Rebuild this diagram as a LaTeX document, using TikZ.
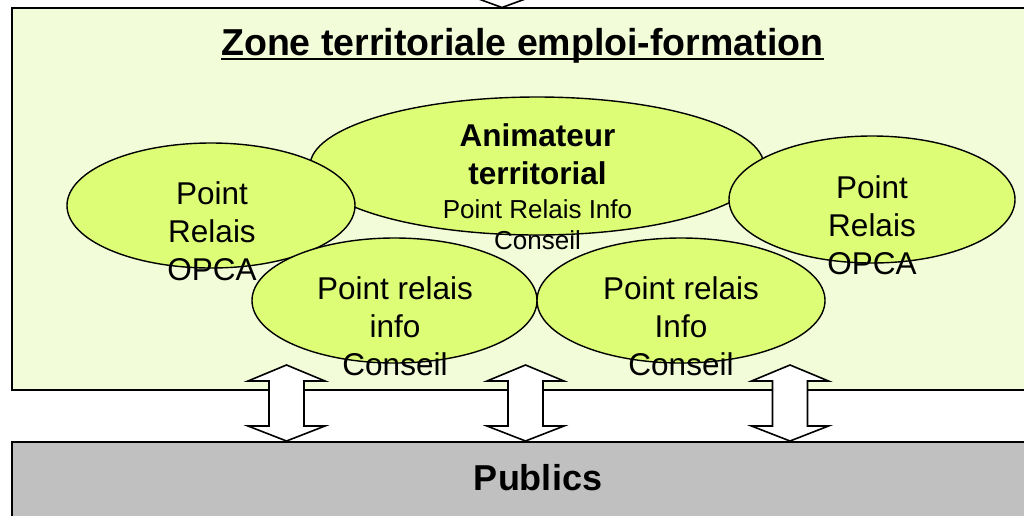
\documentclass[tikz,border=0pt]{standalone}
\usepackage{fontspec}
\setmainfont{Liberation Sans}
\usetikzlibrary{shapes.geometric}
\definecolor{zonefill}{RGB}{242,252,216}
\definecolor{bubblefill}{RGB}{221,253,119}
\definecolor{publicsfill}{RGB}{192,192,192}
\tikzset{
  zonebox/.style={draw=black, line width=2pt, fill=zonefill},
  publicsbox/.style={draw=black, line width=2pt, fill=publicsfill},
  bubble/.style={ellipse, draw=black, line width=1.4pt, fill=bubblefill, inner sep=0pt},
  bubbletext/.style={align=center, inner sep=0pt, font=\fontsize{31.5}{38}\selectfont},
  dblarrow/.pic={
    \draw[line width=1.6pt, fill=white, line join=miter]
      (0,-38) -- (38.5,-22) -- (17.5,-22) -- (17.5,23) -- (38.5,23)
      -- (0,38) -- (-38.5,23) -- (-17.5,23) -- (-17.5,-22) -- (-38.5,-22) -- cycle;
  }
}
\begin{document}
\begin{tikzpicture}[x=1pt,y=-1pt]
\useasboundingbox (0,0) rectangle (1024,515);
\clip (0,0) rectangle (1024,515);

% zone and publics
\draw[zonebox] (12,8) rectangle (1040,390);
\draw[line width=1.6pt, fill=white] (476,-2) -- (502,7.5) -- (528,-2);
\draw[publicsbox] (12,442) rectangle (1040,530);

% title
\node[anchor=base west, inner sep=0pt, font=\fontsize{37.5}{44}\selectfont\bfseries]
  (title) at (221,55) {Zone territoriale emploi-formation\ };
\draw[line width=2.4pt] ([yshift=-4pt]title.base west) -- ([yshift=-4pt]title.base east);

% bubbles
\node[bubble, minimum width=454pt, minimum height=138pt] (anim) at (537,166) {};
\node[bubble, minimum width=288pt, minimum height=125pt] (opcaL) at (211,205.5) {};
\node[bubble, minimum width=286pt, minimum height=127pt] (opcaR) at (872,199.5) {};
\node[bubble, minimum width=285pt, minimum height=125pt] (infoL) at (394.5,300.5) {};
\node[bubble, minimum width=288pt, minimum height=125pt] (infoR) at (681,300.5) {};

% texts
\node[bubbletext, font=\fontsize{31.5}{38}\selectfont\bfseries] (animname) at (537.5,154.5) {Animateur\\territorial};
\node[bubbletext, font=\fontsize{26}{31}\selectfont] (animrole) at (537.5,225) {Point Relais Info\\Conseil};
\node[bubbletext] (opcaLtext) at (212,231) {Point\\Relais\\OPCA};
\node[bubbletext] (opcaRtext) at (872,225) {Point\\Relais\\OPCA};
\node[bubbletext] (infoLtext) at (395,326) {Point relais\\info\\Conseil};
\node[bubbletext] (infoRtext) at (681,326) {Point relais\\Info\\Conseil};

% arrows to publics
\foreach \x in {286.5,525.5,790} {
  \pic at (\x,403) {dblarrow};
}
\node[font=\fontsize{36}{43}\selectfont\bfseries, anchor=base] (publics) at (538,490) {Publics};

\end{tikzpicture}
\end{document}
